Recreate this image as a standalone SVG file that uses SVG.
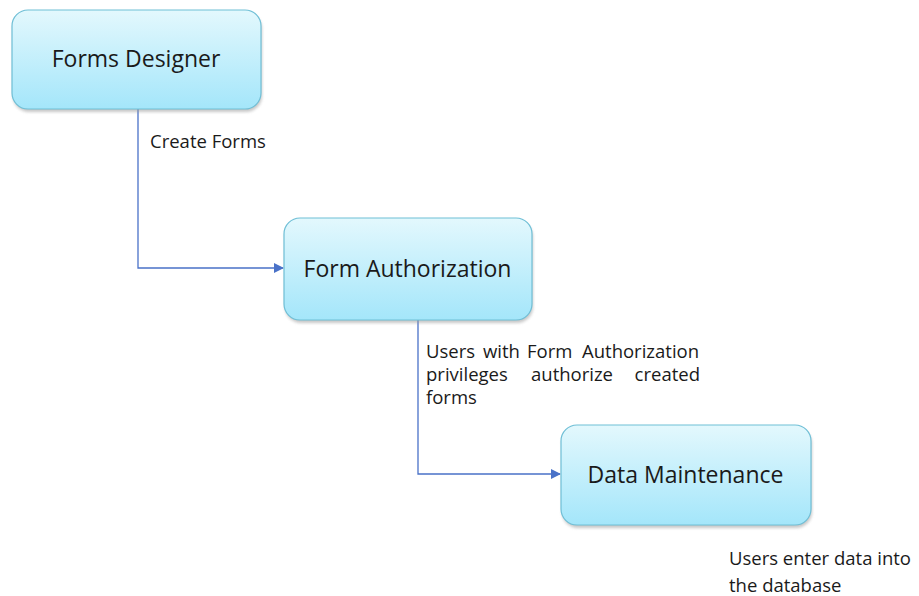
<svg xmlns="http://www.w3.org/2000/svg" width="919" height="596" viewBox="0 0 919 596">
<style>
.box{fill:url(#g);stroke:#6fbfd6;stroke-width:1.2}
.shadow{fill:#9a9a9a;opacity:0.55;filter:url(#blur)}
.title{font-family:"Open Sans","Noto Sans",sans-serif;font-size:23px;fill:#1a1a1a;text-anchor:middle}
.lbl{font-family:"Open Sans","Noto Sans",sans-serif;font-size:18.5px;fill:#1a1a1a}
.conn{fill:none;stroke:#4a72c8;stroke-width:1.3}
</style>
<defs>
<linearGradient id="g" x1="0" y1="0" x2="0" y2="1">
<stop offset="0" stop-color="#e3f8fd"/>
<stop offset="1" stop-color="#a4e6fa"/>
</linearGradient>
<filter id="blur" x="-10%" y="-10%" width="120%" height="130%"><feGaussianBlur stdDeviation="1.5"/></filter>
<marker id="arr" markerWidth="10" markerHeight="10" refX="9" refY="5" orient="auto" markerUnits="userSpaceOnUse">
<path d="M0,0 L10,5 L0,10 z" fill="#4a72c8"/>
</marker>
</defs>
<g id="connectors">
<path class="conn" d="M138,109 V268 H283" marker-end="url(#arr)"/>
<path class="conn" d="M418,320 V474 H560" marker-end="url(#arr)"/>
</g>
<g id="forms-designer">
<rect class="shadow" x="13" y="13" width="249" height="99" rx="16"/>
<rect class="box" x="12" y="10" width="249" height="99" rx="16"/>
<text class="title" x="136" y="67">Forms Designer</text>
</g>
<g id="form-authorization">
<rect class="shadow" x="285" y="221" width="248" height="102" rx="16"/>
<rect class="box" x="284" y="218" width="248" height="102" rx="16"/>
<text class="title" x="407.5" y="277">Form Authorization</text>
</g>
<g id="data-maintenance">
<rect class="shadow" x="562" y="428" width="250" height="100" rx="16"/>
<rect class="box" x="561" y="425" width="250" height="100" rx="16"/>
<text class="title" x="685.5" y="483">Data Maintenance</text>
</g>
<g id="labels">
<text class="lbl" x="150" y="148">Create Forms</text>
<text class="lbl" y="358"><tspan x="426">Users</tspan><tspan x="483">with</tspan><tspan x="527">Form</tspan><tspan x="582">Authorization</tspan></text>
<text class="lbl" x="426" y="381">privileges</text>
<text class="lbl" x="531" y="381">authorize</text>
<text class="lbl" x="700" y="381" text-anchor="end">created</text>
<text class="lbl" x="426" y="404">forms</text>
<text class="lbl" x="729" y="565">Users enter data into</text>
<text class="lbl" x="729" y="592">the database</text>
</g>
</svg>
